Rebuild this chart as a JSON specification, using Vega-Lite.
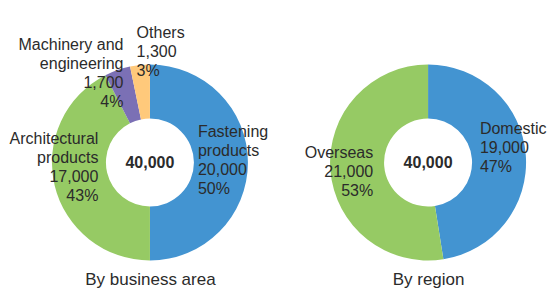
{
  "$schema": "https://vega.github.io/schema/vega-lite/v6.json",
  "autosize": "none",
  "width": 524,
  "height": 195,
  "padding": {"left": 27, "top": 65, "right": 0, "bottom": 30},
  "background": "white",
  "config": {"view": {"stroke": null}, "font": "Liberation Sans", "text": {"lineBreak": "\n"}},
  "data": {"values": [
    {"chart": "By business area", "name": "Fastening\nproducts", "value": 20000, "pct": 50, "rank": 1},
    {"chart": "By business area", "name": "Architectural\nproducts", "value": 17000, "pct": 43, "rank": 2},
    {"chart": "By business area", "name": "Machinery and\nengineering", "value": 1700, "pct": 4, "rank": 3},
    {"chart": "By business area", "name": "Others", "value": 1300, "pct": 3, "rank": 4},
    {"chart": "By region", "name": "Domestic", "value": 19000, "pct": 47, "rank": 1},
    {"chart": "By region", "name": "Overseas", "value": 21000, "pct": 53, "rank": 2}
  ]},
  "transform": [
    {"stack": "value", "groupby": ["chart"], "sort": [{"field": "rank", "order": "ascending"}], "as": ["v0", "v1"]},
    {"calculate": "(datum.v0 + datum.v1) / 2", "as": "mid"},
    {"calculate": "datum.name + '\\n' + format(datum.value, ',') + '\\n' + datum.pct + '%'", "as": "label"}
  ],
  "encoding": {
    "x": {"field": "chart", "type": "nominal", "sort": ["By business area", "By region"],
      "scale": {"type": "point", "padding": 0.442},
      "axis": {"title": null, "domain": false, "ticks": false, "tickSize": 0, "grid": false, "labelAngle": 0,
        "labelFontSize": 17, "labelColor": "#2b2b2b", "labelPadding": 11, "labelFont": "Liberation Sans"}}
  },
  "layer": [
    {
      "mark": {"type": "arc", "innerRadius": 44, "outerRadius": 98},
      "encoding": {
        "theta": {"field": "v0", "type": "quantitative", "stack": null, "scale": {"domain": [0, 40000]}},
        "theta2": {"field": "v1"},
        "color": {"field": "name", "type": "nominal", "legend": null,
          "scale": {"domain": ["Fastening\nproducts", "Architectural\nproducts", "Machinery and\nengineering", "Others", "Domestic", "Overseas"],
            "range": ["#4394d1", "#96ca64", "#7b70b5", "#ffc97b", "#4394d1", "#96ca64"]}}
      }
    },
    {
      "transform": [{"aggregate": [{"op": "sum", "field": "value", "as": "total"}], "groupby": ["chart"]}],
      "mark": {"type": "text", "fontSize": 16, "fontWeight": "bold", "color": "#2b2b2b", "baseline": "middle"},
      "encoding": {"text": {"field": "total", "type": "quantitative", "format": ","}}
    },
    {
      "transform": [{"filter": {"field": "rank", "equal": 1}}, {"filter": {"field": "chart", "equal": "By business area"}}],
      "mark": {"type": "text", "fontSize": 16, "color": "#2b2b2b", "align": "left", "baseline": "middle", "lineHeight": 19, "radius": 48, "dy": -31},
      "encoding": {"theta": {"field": "mid", "type": "quantitative", "stack": null}, "text": {"field": "label"}}
    },
    {
      "transform": [{"filter": {"field": "rank", "equal": 2}}, {"filter": {"field": "chart", "equal": "By business area"}}],
      "mark": {"type": "text", "fontSize": 16, "color": "#2b2b2b", "align": "right", "baseline": "middle", "lineHeight": 19, "radius": 53, "dy": -36},
      "encoding": {"theta": {"field": "mid", "type": "quantitative", "stack": null}, "text": {"field": "label"}}
    },
    {
      "transform": [{"filter": {"field": "rank", "equal": 3}}],
      "mark": {"type": "text", "fontSize": 16, "color": "#2b2b2b", "align": "right", "baseline": "middle", "lineHeight": 19, "radius": 95, "dx": 5, "dy": -28},
      "encoding": {"theta": {"field": "mid", "type": "quantitative", "stack": null}, "text": {"field": "label"}}
    },
    {
      "transform": [{"filter": {"field": "rank", "equal": 4}}],
      "mark": {"type": "text", "fontSize": 16, "color": "#2b2b2b", "align": "left", "baseline": "middle", "lineHeight": 19, "radius": 111, "dx": -2, "dy": -19},
      "encoding": {"theta": {"field": "mid", "type": "quantitative", "stack": null}, "text": {"field": "label"}}
    },
    {
      "transform": [{"filter": {"field": "rank", "equal": 1}}, {"filter": {"field": "chart", "equal": "By region"}}],
      "mark": {"type": "text", "fontSize": 16, "color": "#2b2b2b", "align": "left", "baseline": "middle", "lineHeight": 19, "radius": 52, "dy": -29},
      "encoding": {"theta": {"field": "mid", "type": "quantitative", "stack": null}, "text": {"field": "label"}}
    },
    {
      "transform": [{"filter": {"field": "rank", "equal": 2}}, {"filter": {"field": "chart", "equal": "By region"}}],
      "mark": {"type": "text", "fontSize": 16, "color": "#2b2b2b", "align": "right", "baseline": "middle", "lineHeight": 19, "radius": 55, "dy": -14},
      "encoding": {"theta": {"field": "mid", "type": "quantitative", "stack": null}, "text": {"field": "label"}}
    }
  ]
}
